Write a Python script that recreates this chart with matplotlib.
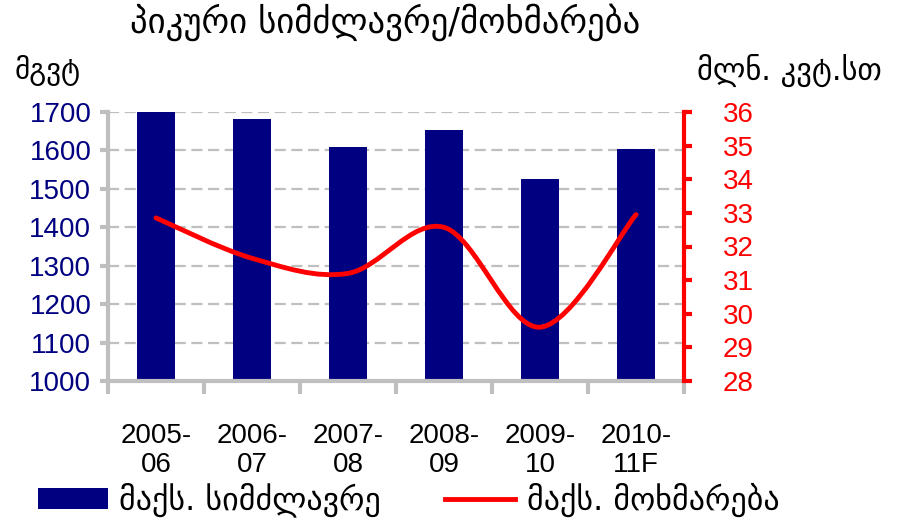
import numpy as np
import matplotlib.pyplot as plt
from matplotlib.path import Path
from matplotlib.patches import PathPatch, Patch
from matplotlib.lines import Line2D

# Datos
periodos = ['2005-\n06', '2006-\n07', '2007-\n08', '2008-\n09', '2009-\n10', '2010-\n11F']
potencia = [1703, 1682, 1610, 1653, 1525, 1603]      # მგვტ
consumo = [32.85, 31.65, 31.2, 32.57, 29.6, 32.95]   # მლნ. კვტ.სთ

titulo = 'პიკური სიმძლავრე/მოხმარება'
etiq_izq = 'მგვტ'
etiq_der = 'მლნ. კვტ.სთ'
leyenda = ['მაქს. სიმძლავრე', 'მაქს. მოხმარება']

gris = '#BFBFBF'
azul = '#000080'
rojo = '#FF0000'
geo = ['DejaVu Sans']

plt.rcParams['font.family'] = ['Liberation Sans', 'DejaVu Sans']

fig = plt.figure(figsize=(8.97, 5.26), dpi=100)
ax = fig.add_axes([108/897, 1-381/526, (684-108)/897, (381-112)/526])

x = np.arange(len(periodos))
ax.bar(x, potencia, width=0.4, color=azul, zorder=2)
ax.set_xlim(-0.5, len(periodos)-0.5)
ax.set_ylim(1000, 1700)
ax.set_yticks(np.arange(1000, 1701, 100))
ax.tick_params(axis='y', colors=gris, width=3, length=6, labelsize=20,
               labelcolor=azul, pad=6)
ax.grid(axis='y', color=gris, linestyle=(0, (5, 2.5)), linewidth=1.6, zorder=0)
ax.set_xticks(x)
ax.set_xticklabels(periodos, fontsize=20, linespacing=1.15)
ax.set_xticks(np.arange(-0.5, len(periodos)), minor=True)
ax.tick_params(axis='x', which='major', length=0, pad=30)
ax.tick_params(axis='x', which='minor', colors=gris, width=3, length=9)
for s in ['top', 'right']:
    ax.spines[s].set_visible(False)
for s in ['left', 'bottom']:
    ax.spines[s].set_color(gris)
    ax.spines[s].set_linewidth(3)

# eje secundario con la línea suavizada (estilo Excel)
ax2 = ax.twinx()
ax2.set_ylim(28, 36)
ax2.set_yticks(np.arange(28, 37, 1))
ax2.tick_params(axis='y', colors=rojo, width=3, length=6, labelsize=20,
                labelcolor=rojo, pad=22)
for s in ['top', 'left', 'bottom']:
    ax2.spines[s].set_visible(False)
ax2.spines['right'].set_color(rojo)
ax2.spines['right'].set_linewidth(3)

P = np.column_stack([x, consumo]).astype(float)
Pe = np.vstack([P[0], P, P[-1]])
verts = [P[0]]
codes = [Path.MOVETO]
for i in range(len(P)-1):
    c1 = Pe[i+1] + (Pe[i+2] - Pe[i]) / 6
    c2 = Pe[i+2] - (Pe[i+3] - Pe[i+1]) / 6
    verts += [c1, c2, Pe[i+2]]
    codes += [Path.CURVE4] * 3
ax2.add_patch(PathPatch(Path(verts, codes), facecolor='none', edgecolor=rojo,
                        linewidth=3.5, capstyle='round', zorder=3))

fig.text(385/897, 1-22/526, titulo, family=geo, fontsize=25,
         ha='center', va='center')
fig.text(15/897, 1-70/526, etiq_izq, family=geo, fontsize=21,
         ha='left', va='center')
fig.text(882/897, 1-70/526, etiq_der, family=geo, fontsize=22,
         ha='right', va='center')

handles = [Patch(facecolor=azul), Line2D([], [], color=rojo, linewidth=3.5)]
fig.legend(handles, leyenda, loc='center left', bbox_to_anchor=(38/897, 1-500/526),
           ncol=2, frameon=False, prop={'family': geo, 'size': 23},
           handlelength=2.2, handleheight=0.6, handletextpad=0.35,
           columnspacing=2.0, borderaxespad=0, borderpad=0)

fig.savefig('out.png', dpi=100)
